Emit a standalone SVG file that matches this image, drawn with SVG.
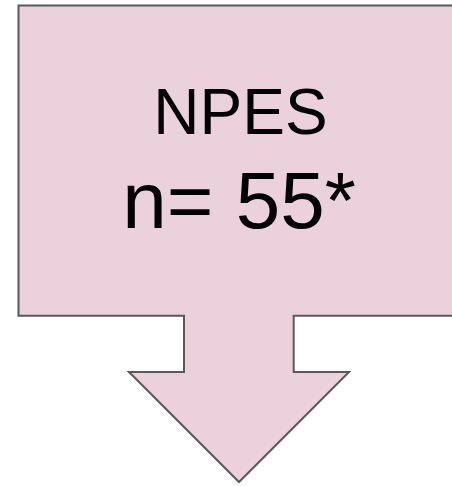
<svg xmlns="http://www.w3.org/2000/svg" width="452" height="486" viewBox="0 0 452 486">
<style>
.shape{fill:#ead1dc;stroke:#595959;stroke-width:2;stroke-linejoin:miter}
.t{font-family:"Liberation Sans",Arial,sans-serif;fill:#000;text-anchor:middle}
</style>
<rect width="452" height="486" fill="#fff"/>
<g id="callout">
<path class="shape" d="M18.5,5.5 H460 V315.7 H293.7 V372 H349 L239,482 L129,372 H184 V315.7 H18.5 Z"/>
<text class="t" x="240.5" y="134" font-size="64">NPES</text>
<text class="t" x="239" y="228" font-size="80">n= 55*</text>
</g>
<g id="connectors"></g>
</svg>
